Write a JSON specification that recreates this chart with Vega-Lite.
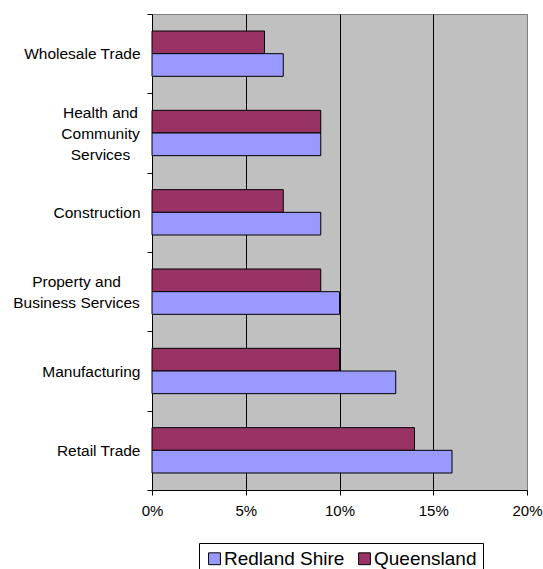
{
  "$schema": "https://vega.github.io/schema/vega-lite/v6.json",
  "autosize": {"type": "none"},
  "padding": {"left": 152, "top": 14, "right": 16, "bottom": 79},
  "width": 375,
  "height": 476,
  "background": "white",
  "data": {
    "values": [
      {"industry": "Wholesale Trade", "region": "Queensland", "share": 0.06},
      {"industry": "Wholesale Trade", "region": "Redland Shire", "share": 0.07},
      {"industry": "Health and Community Services", "region": "Queensland", "share": 0.09},
      {"industry": "Health and Community Services", "region": "Redland Shire", "share": 0.09},
      {"industry": "Construction", "region": "Queensland", "share": 0.07},
      {"industry": "Construction", "region": "Redland Shire", "share": 0.09},
      {"industry": "Property and Business Services", "region": "Queensland", "share": 0.09},
      {"industry": "Property and Business Services", "region": "Redland Shire", "share": 0.10},
      {"industry": "Manufacturing", "region": "Queensland", "share": 0.10},
      {"industry": "Manufacturing", "region": "Redland Shire", "share": 0.13},
      {"industry": "Retail Trade", "region": "Queensland", "share": 0.14},
      {"industry": "Retail Trade", "region": "Redland Shire", "share": 0.16}
    ]
  },
  "config": {
    "font": "Liberation Sans",
    "view": {"fill": "#C0C0C0", "stroke": "#808080", "strokeWidth": 1}
  },
  "mark": {"type": "bar", "stroke": "black", "strokeWidth": 1},
  "encoding": {
    "y": {
      "field": "industry",
      "type": "nominal",
      "sort": ["Wholesale Trade", "Health and Community Services", "Construction", "Property and Business Services", "Manufacturing", "Retail Trade"],
      "scale": {"paddingInner": 0, "paddingOuter": 0},
      "axis": {
        "title": null,
        "tickBand": "extent",
        "domainColor": "black",
        "tickColor": "black",
        "tickSize": 5,
        "labelFontSize": 15.5,
        "labelColor": "black",
        "labelBaseline": "middle",
        "labelAlign": {"condition": {"test": "datum.value == 'Health and Community Services' || datum.value == 'Property and Business Services'", "value": "center"}, "value": "right"},
        "labelPadding": {"condition": [{"test": "datum.value == 'Health and Community Services'", "value": 47}, {"test": "datum.value == 'Property and Business Services'", "value": 71}], "value": 7},
        "labelOffset": {"condition": [{"test": "datum.value == 'Health and Community Services'", "value": -21}, {"test": "datum.value == 'Property and Business Services'", "value": -10.5}], "value": 0},
        "labelLineHeight": 21,
        "labelLimit": 200,
        "labelExpr": "datum.value == 'Health and Community Services' ? ['Health and', 'Community', 'Services'] : datum.value == 'Property and Business Services' ? ['Property and', 'Business Services'] : datum.value"
      }
    },
    "yOffset": {
      "field": "region",
      "type": "nominal",
      "sort": ["Queensland", "Redland Shire"],
      "scale": {"paddingInner": 0, "paddingOuter": 0.75}
    },
    "x": {
      "field": "share",
      "type": "quantitative",
      "scale": {"domain": [0, 0.2], "nice": false},
      "axis": {
        "title": null,
        "format": ".0%",
        "values": [0, 0.05, 0.1, 0.15, 0.2],
        "domainColor": "black",
        "tickColor": "black",
        "tickSize": 5,
        "labelFontSize": 15,
        "labelColor": "black",
        "labelPadding": 8,
        "labelFlush": false,
        "grid": true,
        "gridColor": {"condition": {"test": "datum.value >= 0.2 || datum.value <= 0", "value": "#808080"}, "value": "#000000"},
        "gridWidth": 1
      }
    },
    "color": {
      "field": "region",
      "type": "nominal",
      "scale": {"domain": ["Redland Shire", "Queensland"], "range": ["#9999FF", "#993366"]},
      "legend": {
        "title": null,
        "orient": "none",
        "legendX": 47,
        "legendY": 529,
        "direction": "horizontal",
        "columns": 2,
        "strokeColor": "black",
        "fillColor": "white",
        "padding": 6,
        "columnPadding": 10,
        "symbolType": "square",
        "symbolSize": 140,
        "symbolStrokeColor": "black",
        "symbolStrokeWidth": 1,
        "symbolOpacity": 1,
        "labelFontSize": 19,
        "labelColor": "black",
        "labelOffset": 0,
        "labelLimit": 200
      }
    }
  }
}
